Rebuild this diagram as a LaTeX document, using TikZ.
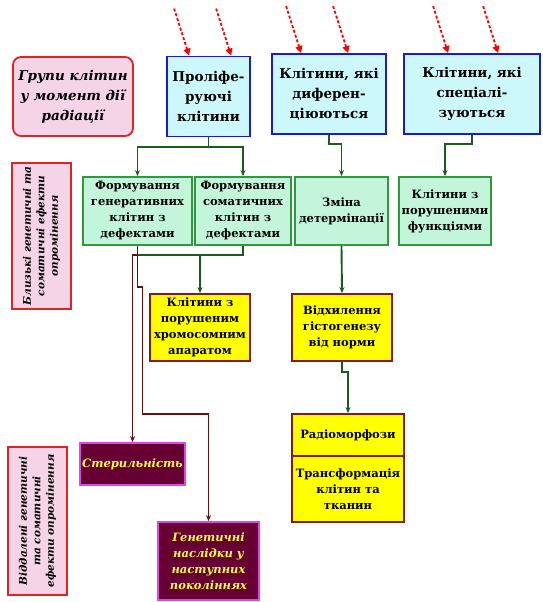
\documentclass[tikz,border=0pt]{standalone}
\usepackage{fontspec}
\setmainfont{DejaVu Serif}
\usetikzlibrary{arrows.meta,calc}
\definecolor{pinkfill}{HTML}{F4D4E6}
\definecolor{redline}{HTML}{E02424}
\definecolor{cyanfill}{HTML}{CCF8FC}
\definecolor{blueline}{HTML}{1A1AD2}
\definecolor{mintfill}{HTML}{C2F5DA}
\definecolor{mintline}{HTML}{2E9A3C}
\definecolor{yelfill}{HTML}{FFFF00}
\definecolor{brownline}{HTML}{8A1A1A}
\definecolor{plumfill}{HTML}{660033}
\definecolor{plumline}{HTML}{E444E4}
\definecolor{plumtext}{HTML}{FFFF3C}
\definecolor{darkgr}{HTML}{1E5A1E}
\definecolor{darkrd}{HTML}{6A0F0F}

\begin{document}
\begin{tikzpicture}[x=1pt,y=-1pt,
  every node/.style={align=center,inner sep=2pt,line width=1.8pt},
  labelbox/.style={draw=redline,fill=pinkfill,font=\bfseries\itshape\fontsize{10.5}{13.5}\selectfont},
  topbox/.style={draw=blueline,fill=cyanfill,minimum width=#1,minimum height=80,font=\bfseries\fontsize{13.5}{20}\selectfont},
  greenbox/.style={draw=mintline,fill=mintfill,minimum width=#1,minimum height=68,font=\bfseries\fontsize{11.5}{16}\selectfont},
  yelbox/.style={draw=brownline,fill=yelfill,minimum width=#1,font=\bfseries\fontsize{11.5}{16}\selectfont},
  plumbox/.style={draw=plumline,fill=plumfill,text=plumtext,minimum width=101,font=\bfseries\itshape\fontsize{11.5}{16}\selectfont},
  grline/.style={draw=darkgr,line width=1.9pt},
  grarrow/.style={grline,-{Stealth[length=6pt,width=5pt]}},
  rdarrow/.style={draw=darkrd,line width=1.9pt,-{Stealth[length=6pt,width=5pt]}},
  radarrow/.style={draw=red,line width=1.8pt,dash pattern=on 3pt off 2pt,-{Triangle[length=7pt,width=7pt]}}]
\useasboundingbox (0,0) rectangle (543,602);

\node[labelbox,rounded corners=8pt,minimum width=120,minimum height=79,font=\bfseries\itshape\fontsize{13.5}{20}\selectfont] (grupy) at (73,96.5) {Групи клітин\\у момент дії\\радіації};
\node[topbox=83] (prolif) at (208.5,96.5) {Проліфе-\\руючі\\клітини};
\node[topbox=114] (dyfer) at (329,94) {Клітини, які\\диферен-\\ціюються};
\node[topbox=136] (spec) at (472,94) {Клітини, які\\спеціалі-\\зуються};

\node[labelbox,rotate=90,minimum width=146,minimum height=59] (blyzki) at (41.5,236) {Близькі генетичні та\\соматичні ефекти\\опромінення};
\node[greenbox=109] (gen) at (137.5,211) {Формування\\генеративних\\клітин з\\дефектами};
\node[greenbox=96] (som) at (243,211) {Формування\\соматичних\\клітин з\\дефектами};
\node[greenbox=93] (zmina) at (341.5,211) {Зміна\\детермінації};
\node[greenbox=92] (funk) at (445,211) {Клітини з\\порушеними\\функціями};

\node[yelbox=100,minimum height=67] (chrom) at (200,327.5) {Клітини з\\порушеним\\хромосомним\\апаратом};
\node[yelbox=100,minimum height=67] (vidh) at (342,327.5) {Відхилення\\гістогенезу\\від норми};
\node[yelbox=112,minimum height=42] (radio) at (348,435) {Радіоморфози};
\node[yelbox=112,minimum height=66] (transf) at (348,489) {Трансформація\\клітин та\\тканин};

\node[labelbox,rotate=90,minimum width=148,minimum height=59] (viddal) at (37.5,521) {Віддалені генетичні\\та соматичні\\ефекти опромінення};
\node[plumbox,minimum height=42] (steril) at (132.5,464) {Стерильність};
\node[plumbox,minimum height=78] (nasl) at (208.5,561) {Генетичні\\наслідки у\\наступних\\поколіннях};

\foreach \n/\a/\b in {prolif/23/65,dyfer/30/77,spec/45/95}
  \foreach \d in {\a,\b}
    \draw[radarrow] ($(\n.north west)+(\d-15,-47)$) -- ($(\n.north west)+(\d,0)$);

\draw[grarrow] (prolif.south) -- ++(0,10) -| (gen.north);
\draw[grarrow] (prolif.south) -- ++(0,10) -| (som.north);
\draw[grarrow] (dyfer.south) -- ++(0,9) -| (zmina.north);
\draw[grarrow] (spec.south) -- ++(0,9) -| (funk.north);
\draw[grarrow] (zmina.south) -- (vidh.north);
\draw[grarrow] (vidh.south) -- ++(0,10) -| (radio.north);
\draw[grline] (som.south) -- ++(0,9) coordinate (j) -- (j -| gen.south);
\draw[grarrow] (chrom.north |- j) -- (chrom.north);

\draw[rdarrow] (gen.south) -- ++(0,41) -- ++(5,0) -- ++(0,127) -| (nasl.north);
\draw[rdarrow] (j -| gen.south) -- ++(-5,0) -- (steril.north);
\end{tikzpicture}
\end{document}
